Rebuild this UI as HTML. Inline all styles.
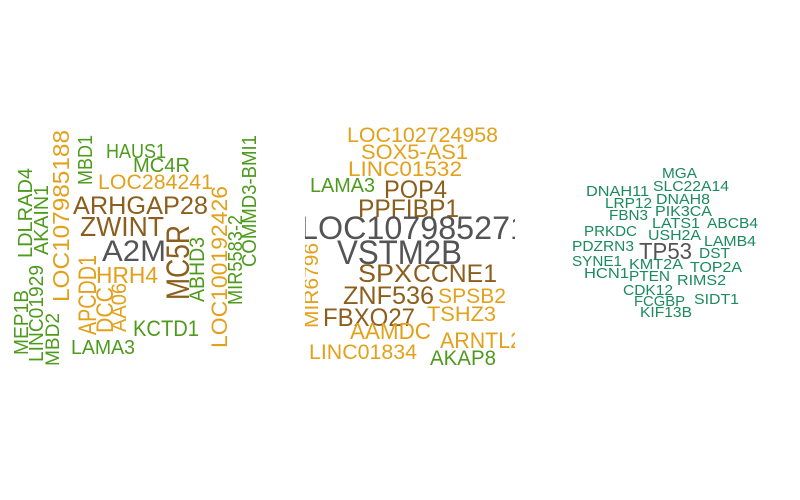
<!DOCTYPE html>
<html><head><meta charset="utf-8">
<style>
html,body{margin:0;padding:0;background:#fff;width:800px;height:500px;overflow:hidden}
svg text{font-family:"Liberation Sans",Arial,sans-serif}
</style></head>
<body>
<svg id="cloud" width="800" height="500" viewBox="0 0 800 500" xmlns="http://www.w3.org/2000/svg">
<defs><clipPath id="c2"><rect x="305" y="100" width="210" height="300"/></clipPath></defs>
<g id="p1"></g>
<g id="p2" clip-path="url(#c2)"></g>
<g id="p3"></g>
</svg>
<script>
const C={g:"#545454",b:"#8c5e1c",o:"#e3a11b",n:"#4e9a1d",t:"#1b8a5e"};
// [word, panel, x, baselineY, fontSize, colorKey, rotated, length]
const panel1Words=[
["HAUS1",1,106,158,20,"n",0,60],["MC4R",1,133,172,20,"n",0,57],["LOC284241",1,98,189,21,"o",0,115],
["ARHGAP28",1,73,214,25,"b",0,135],["ZWINT",1,80,236,28,"b",0,84],["A2M",1,102,261,30,"g",0,64],
["HRH4",1,96,283,23,"o",0,62],["KCTD1",1,133,336,22,"n",0,66],["LAMA3",1,71,354,20,"n",0,64],
["MEP1B",1,28,355,20,"n",1,65],["LINC01929",1,43,362,20,"n",1,97],["MBD2",1,59,366,19,"n",1,53],
["LDLRAD4",1,32,258,20,"n",1,90],["AKAIN1",1,48,255,20,"n",1,70],["LOC107985188",1,69,302,23,"o",1,172],
["MBD1",1,92,185,20,"n",1,50],["APCDD1",1,96,335,25,"o",1,80],["DCC",1,113,333,24,"o",1,46],
["AA06",1,126,332,21,"o",1,49],["MC5R",1,189,300,32,"b",1,75],["ABHD3",1,204,302,21,"n",1,65],
["LOC100192426",1,227,348,22,"o",1,162],["MIR5583-2",1,242,305,20,"n",1,90],["COMMD3-BMI1",1,256,267,20,"n",1,132]];
const panel2Words=[
["LOC102724958",2,347,142,21,"o",0,151],["SOX5-AS1",2,361,159,21,"o",0,107],["LINC01532",2,348,176,21,"o",0,114],
["LAMA3",2,310,192,20,"n",0,65],["POP4",2,384,198,25,"b",0,63],["PPFIBP1",2,358,217,25,"b",0,101],
["LOC107985271",2,300,239,32,"g",0,228],["VSTM2B",2,337,264,34,"g",0,125],["SPX",2,358,282,25,"b",0,54],
["CCNE1",2,413,282,25,"b",0,84],["ZNF536",2,343,304,25,"b",0,91],["SPSB2",2,438,303,21,"o",0,68],
["FBXO27",2,323,326,25,"b",0,92],["TSHZ3",2,427,321,21,"o",0,69],["AAMDC",2,350,339,23,"o",0,81],
["ARNTL2",2,440,348,22,"o",0,82],["LINC01834",2,309,359,21,"o",0,108],["AKAP8",2,430,365,21,"n",0,66],
["MIR6796",2,318,328,20,"o",1,85]];
const panel3Words=[
["MGA",3,662,178,15,"t",0,35],["SLC22A14",3,653,191,15,"t",0,76],["DNAH11",3,586,196,15,"t",0,63],
["LRP12",3,605,208,15,"t",0,47],["DNAH8",3,656,204,15,"t",0,54],["FBN3",3,609,220,15,"t",0,39],
["PIK3CA",3,655,216,15,"t",0,57],["LATS1",3,652,228,15,"t",0,48],["ABCB4",3,707,228,15,"t",0,51],
["PRKDC",3,584,236,15,"t",0,53],["USH2A",3,648,240,15,"t",0,53],["LAMB4",3,704,246,15,"t",0,52],
["PDZRN3",3,572,251,15,"t",0,62],["TP53",3,639,259,23,"g",0,53],["DST",3,699,258,15,"t",0,31],
["SYNE1",3,572,266,15,"t",0,50],["KMT2A",3,629,269,15,"t",0,54],["TOP2A",3,690,272,15,"t",0,52],
["HCN1",3,584,278,15,"t",0,45],["PTEN",3,629,281,15,"t",0,41],["RIMS2",3,677,285,15,"t",0,49],
["CDK12",3,623,295,15,"t",0,50],["FCGBP",3,634,306,15,"t",0,51],["SIDT1",3,694,304,15,"t",0,45],
["KIF13B",3,640,317,15,"t",0,52]];
const NS="http://www.w3.org/2000/svg";
[panel1Words,panel2Words,panel3Words].forEach(list=>{
  list.forEach(w=>{
    const [txt,p,x,y,fs,ck,rot,len]=w;
    const t=document.createElementNS(NS,"text");
    t.setAttribute("x",x);t.setAttribute("y",y);
    t.setAttribute("font-size",fs);t.setAttribute("fill",C[ck]);
    t.setAttribute("textLength",len);t.setAttribute("lengthAdjust","spacingAndGlyphs");
    if(rot) t.setAttribute("transform","rotate(-90 "+x+" "+y+")");
    t.textContent=txt;
    
    
    document.getElementById("p"+p).appendChild(t);
  });
});
</script>
</body></html>
